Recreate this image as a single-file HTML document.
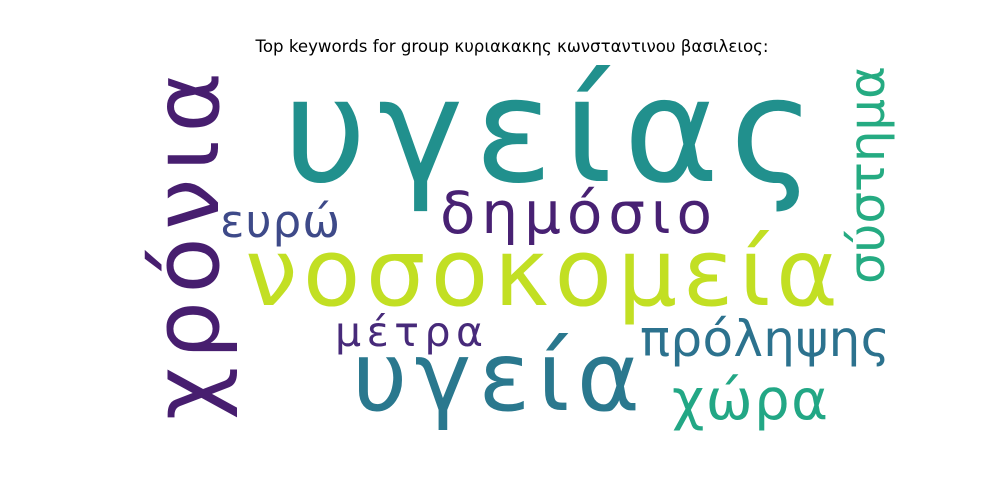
<!DOCTYPE html>
<html><head><meta charset="utf-8"><style>
html,body{margin:0;padding:0;background:#fff;}
svg{display:block;}
text{font-family:"DejaVu Sans","Liberation Sans",sans-serif;}
</style></head><body>
<svg width="1000" height="500" viewBox="0 0 1000 500">
<text x="512" y="52" text-anchor="middle" font-size="16.5" fill="#000" textLength="513" lengthAdjust="spacingAndGlyphs">Top keywords for group κυριακακης κωνσταντινου βασιλειος:</text>
<g id="words"></g>
</svg>
<script>
const words = ["υγείας","νοσοκομεία","υγεία","χρόνια","δημόσιο","σύστημα","πρόληψης","χώρα","ευρώ","μέτρα"];
const colors = ["#21908d","#c2df23","#2a788e","#471e6f","#482173","#25ab82","#2c728e","#22a785","#3e4a89","#472a7a"];
const g = document.getElementById('words');
const ns = "http://www.w3.org/2000/svg";
// layout: x, y (baseline start), font size, text length, rotated
const layout = [
 [283,181,145,532,false],
 [245,305,94,593,false],
 [352,410,96,288,false],
 [218,420,92,348,true],
 [440,233,58,272,false],
 [884,284,50,218,true],
 [640,356,50,250,false],
 [672,419,56,156,false],
 [220,237,45,120,false],
 [335,346,41,148,false]
];
words.forEach((w,i)=>{
  const [x,y,fs,len,rot]=layout[i];
  const t=document.createElementNS(ns,'text');
  t.textContent=w;
  t.setAttribute('font-size',fs);
  t.setAttribute('fill',colors[i]);
  t.setAttribute('textLength',len);
  t.setAttribute('lengthAdjust','spacing');
  if(rot){t.setAttribute('x',0);t.setAttribute('y',0);t.setAttribute('transform',`translate(${x},${y}) rotate(-90)`);}
  else{t.setAttribute('x',x);t.setAttribute('y',y);}
  
  
  g.appendChild(t);
});
</script>
</body></html>
